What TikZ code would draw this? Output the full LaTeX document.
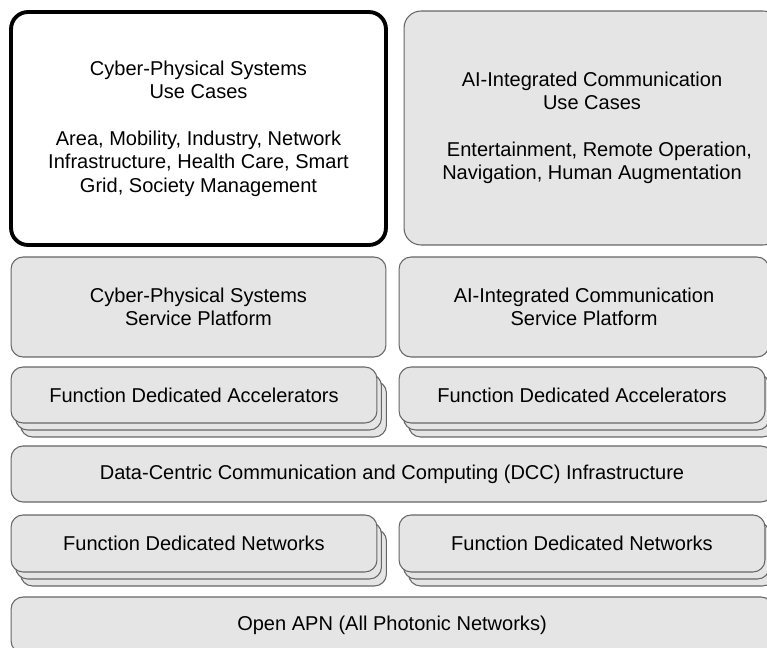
\documentclass[tikz,border=0pt]{standalone}
\usepackage{fontspec}
\setmainfont{Liberation Sans}
\usetikzlibrary{shadows}

\tikzset{
  layer/.style={rectangle, rounded corners=0.24cm, draw=black!60, fill=black!10,
    line width=0.6pt, align=center, inner sep=0pt,
    font=\fontsize{11.4}{13.1}\selectfont},
  usecase/.style={layer, rounded corners=0.34cm},
  stacked/.style={layer,
    copy shadow={shadow xshift=0.19cm, shadow yshift=-0.28cm},
    copy shadow={shadow xshift=0.09cm, shadow yshift=-0.14cm}},
}

\begin{document}
\begin{tikzpicture}[x=0.02cm, y=-0.02cm]

\useasboundingbox (0, 0) rectangle (767, 648);
\clip (0, 0) rectangle (767, 648);

% use cases
\node[usecase, fill=white, draw=black, line width=2.2pt,
  minimum width=7.5cm, minimum height=4.66cm] (cpsuse) at (198.5, 128.5)
  {Cyber-Physical Systems\\Use Cases\\[14pt]
   Area, Mobility, Industry, Network\\Infrastructure, Health Care, Smart\\Grid, Society Management};
\node[usecase, minimum width=7.52cm, minimum height=4.68cm] (aiuse) at (592, 128)
  {AI-Integrated Communication\\Use Cases\\[14pt]
   \hspace{0.3cm}Entertainment, Remote Operation,\\Navigation, Human Augmentation};

% service platforms
\node[layer, minimum width=7.5cm, minimum height=2cm] (cpsplat) at (198.5, 307)
  {Cyber-Physical Systems\\Service Platform};
\node[layer, minimum width=7.4cm, minimum height=2cm] (aiplat) at (584, 307)
  {AI-Integrated Communication\\Service Platform};

% accelerators
\node[stacked, minimum width=7.32cm, minimum height=1.12cm] (cpsacc) at (194, 395)
  {Function Dedicated Accelerators};
\node[stacked, minimum width=7.32cm, minimum height=1.12cm] (aiacc) at (582, 395)
  {Function Dedicated Accelerators};

% infrastructure
\node[layer, minimum width=15.24cm, minimum height=1.12cm] (dcc) at (392, 474)
  {Data-Centric Communication and Computing (DCC) Infrastructure};

% networks
\node[stacked, minimum width=7.32cm, minimum height=1.14cm] (cpsnet) at (194, 543.5)
  {Function Dedicated Networks};
\node[stacked, minimum width=7.32cm, minimum height=1.14cm] (ainet) at (582, 543.5)
  {Function Dedicated Networks};

\node[layer, minimum width=15.24cm, minimum height=1.12cm] (apn) at (392, 625)
  {Open APN (All Photonic Networks)};

\end{tikzpicture}
\end{document}
